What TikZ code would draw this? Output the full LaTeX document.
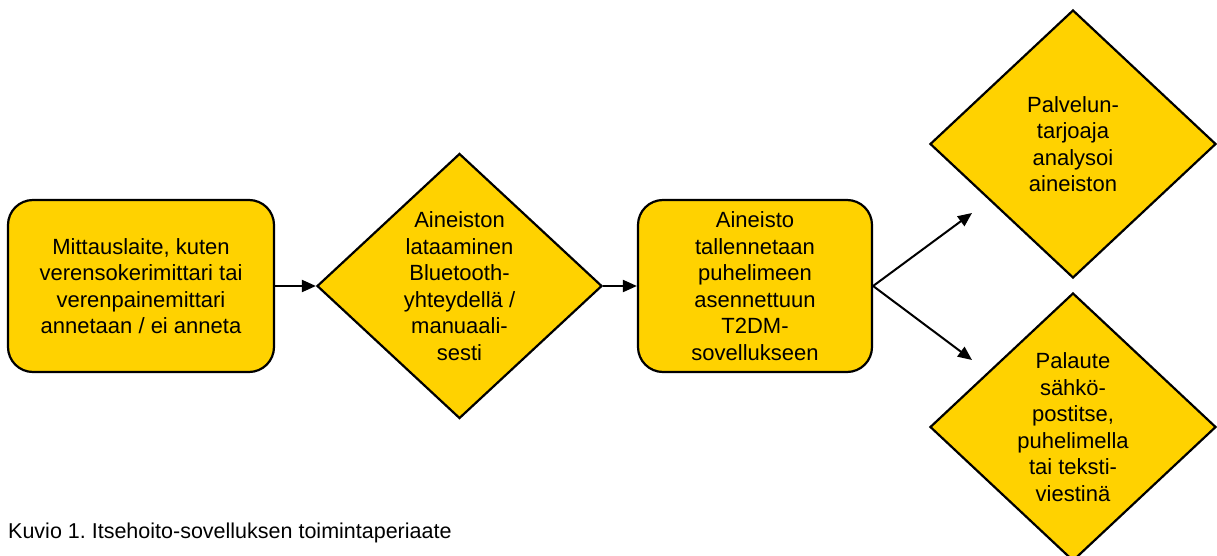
\documentclass[tikz,border=0pt]{standalone}
\usepackage{fontspec}
\setmainfont{Liberation Sans}
\usetikzlibrary{shapes.geometric, arrows.meta}
\definecolor{flowgold}{HTML}{FFD200}
\frenchspacing
\tikzset{
  flow box/.style={
    rounded corners=25pt,
    draw,
    line width=2.2pt,
    fill=flowgold,
    align=center,
    inner sep=0pt,
    font=\fontsize{22}{26.5}\selectfont,
  },
  flow diamond/.style={
    diamond,
    draw,
    line width=2.2pt,
    fill=flowgold,
    align=center,
    inner sep=-8pt,
    font=\fontsize{22}{26.5}\selectfont,
  },
  flow arrow/.style={
    line width=2pt,
    -{Triangle[length=14pt,width=12pt]},
  },
}

\begin{document}
\begin{tikzpicture}[x=1pt, y=-1pt]
      \useasboundingbox (0,0) rectangle (1217,556);
      \node[flow box, minimum width=266pt, minimum height=172pt] (mittaus) at (141,286)
        {Mittauslaite, kuten\\verensokerimittari tai\\verenpainemittari\\annetaan / ei anneta};
      \node[flow diamond, minimum width=285pt, minimum height=265pt] (lataus) at (459.5,286)
        {Aineiston\\lataaminen\\Bluetooth-\\yhteydellä /\\manuaali-\\sesti};
      \node[flow box, minimum width=234pt, minimum height=172pt] (tallennus) at (755,286)
        {Aineisto\\tallennetaan\\puhelimeen\\asennettuun\\T2DM-\\sovellukseen};
      \node[flow diamond, minimum width=286pt, minimum height=268pt] (analyysi) at (1073,144)
        {Palvelun-\\tarjoaja\\analysoi\\aineiston};
      \node[flow diamond, minimum width=286pt, minimum height=268pt] (palaute) at (1073,427)
        {Palaute\\sähkö-\\postitse,\\puhelimella\\tai teksti-\\viestinä};
      \node[anchor=base west, inner sep=0pt, font=\fontsize{21.5}{26}\selectfont] (kuvio) at (8,538)
        {Kuvio 1. Itsehoito-sovelluksen toimintaperiaate};

      \coordinate (ylakarki) at (972,213);
      \coordinate (alakarki) at (972,360);

      \draw[flow arrow] (mittaus) -- (lataus);
      \draw[flow arrow] (lataus) -- (tallennus);
      \draw[flow arrow] (tallennus.east) -- (ylakarki);
      \draw[flow arrow] (tallennus.east) -- (alakarki);
    \end{tikzpicture}
\end{document}
